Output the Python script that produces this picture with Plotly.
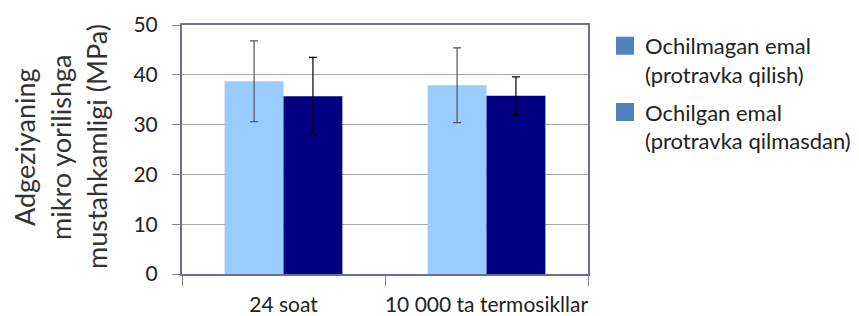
import plotly.graph_objects as go

categories = ["24 soat", "10 000 ta termosikllar"]
series_names = ["Ochilmagan emal<br>(protravka qilish)", "Ochilgan emal<br>(protravka qilmasdan)"]
unetched = [38.7, 37.9]
unetched_err = [8.1, 7.5]
etched = [35.7, 35.8]
etched_err = [7.8, 3.8]
y_ticks = [0, 10, 20, 30, 40, 50]
y_title_lines = ["Adgeziyaning", "mikro yorilishga", "mustahkamligi (MPa)"]

FONT = "Lato"
fig = go.Figure()
fig.add_trace(go.Bar(
    x=categories, y=unetched, marker=dict(color="#99CCFF", line=dict(width=0)),
    error_y=dict(type="data", array=unetched_err, color="#555555", thickness=1.2, width=4),
    showlegend=False,
))
fig.add_trace(go.Bar(
    x=categories, y=etched, marker=dict(color="#000080", line=dict(width=0)),
    error_y=dict(type="data", array=etched_err, color="#000000", thickness=1.2, width=4),
    showlegend=False,
))
for i, nm in enumerate(series_names):
    fig.add_trace(go.Scatter(
        x=[None], y=[None], mode="markers", name=nm, legendgroup=f"g{i}",
        marker=dict(symbol="square", size=18, color="#4F81BD",
                    line=dict(color="#4F81BD", width=2)),
    ))

# page body has an 8px margin, compensate
OFF = 8
W, H = 859 - OFF, 316 - OFF
PL, PR, PT, PB = 182, 588, 25, 274  # desired plot area in screen pixels
L = PL - OFF
T = PT - OFF
R = W - (PR - OFF)
B = H - (PB - OFF)
pw = PR - PL

for i, line in enumerate(y_title_lines):
    px = [24, 60, 96][i]
    fig.add_annotation(
        text=line, xref="paper", yref="paper", x=(px - PL) / pw, y=0.51,
        textangle=-90, showarrow=False, xanchor="center", yanchor="middle",
        font=dict(family=FONT, size=27, color="#333333"),
    )

fig.update_layout(
    width=W, height=H, margin=dict(l=L, r=R, t=T, b=B, autoexpand=False),
    paper_bgcolor="white", plot_bgcolor="white",
    barmode="group", bargap=0.42, bargroupgap=0,
    font=dict(family=FONT, size=20, color="#222222"),
    legend=dict(
        x=(605 - PL) / pw, y=1.0, xanchor="left", yanchor="top",
        font=dict(family=FONT, size=22, color="#222222"),
        valign="top", tracegroupgap=6, traceorder="grouped",
    ),
    xaxis=dict(
        type="category", showline=True, linecolor="#6E6E9A", linewidth=2, mirror=True,
        ticks="outside", tickson="boundaries", ticklen=10, tickcolor="#888888",
        showgrid=False, tickfont=dict(family=FONT, size=21, color="#222222"),
        ticklabelstandoff=11, tickangle=0, automargin=False,
    ),
    yaxis=dict(
        range=[0, 50], tickvals=y_ticks, showline=True, linecolor="#6E6E9A", linewidth=2,
        mirror=True, ticks="outside", ticklen=8, tickcolor="#888888",
        showgrid=True, gridcolor="#A6A6A6", gridwidth=1, zeroline=False,
        tickfont=dict(family=FONT, size=21, color="#222222"),
        ticklabelstandoff=10, automargin=False,
    ),
)
fig.write_html("out.html")
